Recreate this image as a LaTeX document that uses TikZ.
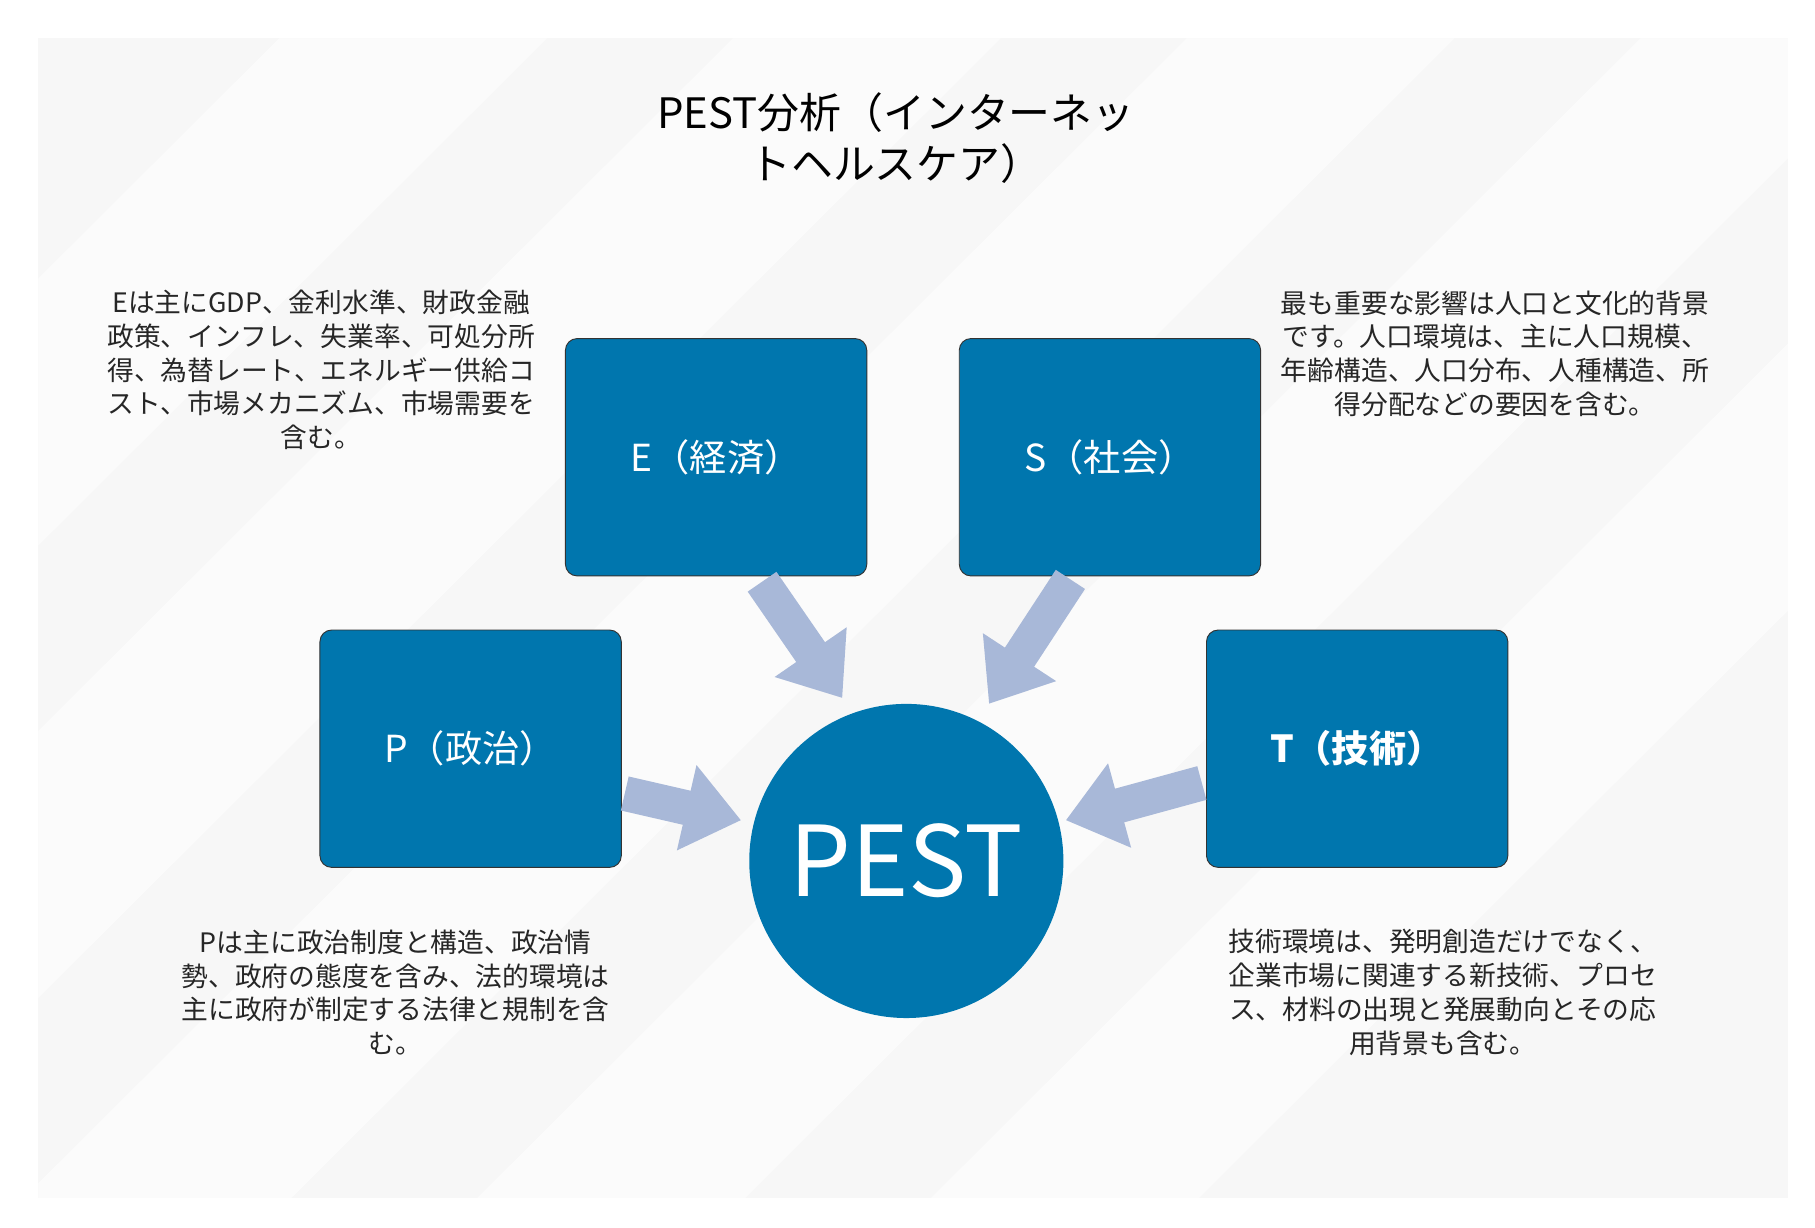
\documentclass[tikz,border=0pt]{standalone}
\usepackage{fontspec}
\setmainfont{Noto Sans CJK JP}
\usetikzlibrary{arrows.meta}
\definecolor{boxblue}{HTML}{0076AE}
\definecolor{arrowc}{HTML}{A8B8D8}
\definecolor{panel}{HTML}{F7F7F7}
\tikzset{
  x=0.5pt,y=-0.5pt,
  pbox/.style={draw=black!80,fill=boxblue,rounded corners=5pt,minimum width=129.5pt,minimum height=102pt,text=white,font=\fontsize{16}{19}\selectfont,inner sep=0pt},
  desc/.style={align=center,font=\fontsize{11.5}{14.5}\selectfont,text=black!85},
  barrow/.style={draw=arrowc,line width=15pt,-{Triangle[length=24pt,width=36pt]}},
}
\begin{document}
\begin{tikzpicture}
\useasboundingbox (0,0) rectangle (1560,1055);
\fill[white] (0,0) rectangle (1560,1055);
\fill[panel] (33,33) rectangle (1537,1030);
\begin{scope}
\clip (33,33) rectangle (1537,1030);
\foreach \a in {0,390,780,1170,1560}{
  \fill[white,opacity=0.6] (\a+240,33) -- (\a+470,33) -- (\a-530,1030) -- (\a-760,1030) -- cycle;
}
\end{scope}
\node[desc,font=\fontsize{18}{22}\selectfont,text=black] (title) at (770,119) {PEST分析（インターネッ\\トヘルスケア）};
\node[pbox] (E) at (615.5,393) {E（経済）};
\node[pbox] (S) at (954,393) {S（社会）};
\node[pbox] (P) at (404.5,643.5) {P（政治）};
\node[pbox,font=\fontsize{16}{19}\bfseries\selectfont] (T) at (1166.5,643.5) {T（技術）};
\node[circle,fill=boxblue,minimum size=135pt,inner sep=0pt,text=white,font=\fontsize{42}{48}\selectfont] (C) at (779,740) {PEST};
\coordinate (e1) at (655,500); \coordinate (e2) at (724,600);
\coordinate (s1) at (920,498); \coordinate (s2) at (850,605);
\coordinate (p1) at (537,682); \coordinate (p2) at (637,705);
\coordinate (t1) at (1033,673); \coordinate (t2) at (916,705);
\draw[barrow] (e1) -- (e2);
\draw[barrow] (s1) -- (s2);
\draw[barrow] (p1) -- (p2);
\draw[barrow] (t1) -- (t2);
\node[desc] (Et) at (276,318) {Eは主にGDP、金利水準、財政金融\\政策、インフレ、失業率、可処分所\\得、為替レート、エネルギー供給コ\\スト、市場メカニズム、市場需要を\\含む。};
\node[desc] (St) at (1285,304) {最も重要な影響は人口と文化的背景\\です。人口環境は、主に人口規模、\\年齢構造、人口分布、人種構造、所\\得分配などの要因を含む。};
\node[desc] (Pt) at (340,853) {Pは主に政治制度と構造、政治情\\勢、政府の態度を含み、法的環境は\\主に政府が制定する法律と規制を含\\む。};
\node[desc] (Tt) at (1240,853) {技術環境は、発明創造だけでなく、\\企業市場に関連する新技術、プロセ\\ス、材料の出現と発展動向とその応\\用背景も含む。};
\end{tikzpicture}
\end{document}
